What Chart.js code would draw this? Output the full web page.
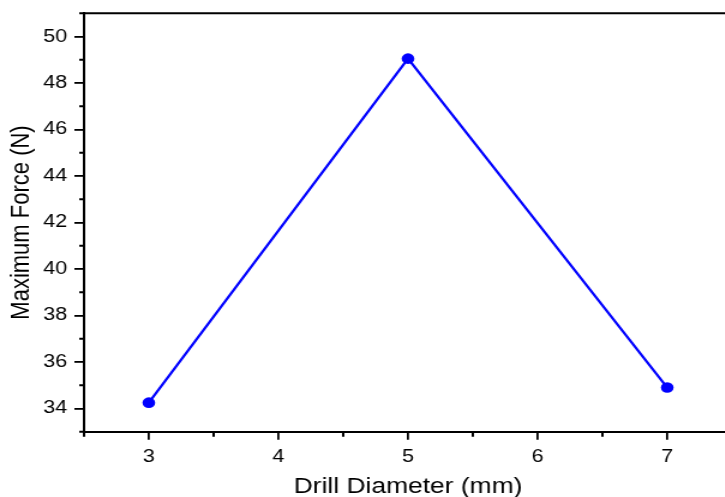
<!DOCTYPE html>
<html>
<head>
<meta charset="utf-8">
<script src="https://cdn.jsdelivr.net/npm/chart.js@4"></script>
<style>
    html, body { margin: 0; padding: 0; background: #fff; overflow: hidden; }
    #wrap { width: 620px; height: 497px; transform: scaleX(1.2); transform-origin: 0 0; }
</style>
</head>
<body>
<div id="wrap"><canvas id="forceChart" width="620" height="497"></canvas></div>
<script>
// drill diameter (mm) vs maximum force (N)
const diameters = [3, 5, 7];
const maxForce = [34.25, 49.05, 34.9];

const xTicks = [3, 4, 5, 6, 7];
const xMinor = [2.5, 3.5, 4.5, 5.5, 6.5, 7.5];
const yTicks = [34, 36, 38, 40, 42, 44, 46, 48, 50];
const yMinor = [33, 35, 37, 39, 41, 43, 45, 47, 49, 51];

const FONT = "'Liberation Sans', Arial, sans-serif";

/* top frame line + short minor ticks */
const axisExtras = {
    id: "axisExtras",
    afterDraw(chart) {
        const {ctx, chartArea: a, scales: {x, y}} = chart;
        ctx.save();
        ctx.strokeStyle = "#000";
        ctx.lineWidth = 2;
        ctx.beginPath();
        ctx.moveTo(a.left - 4, a.top);
        ctx.lineTo(a.right, a.top);
        ctx.lineTo(a.right, a.bottom);
        yMinor.forEach(v => {
            const py = y.getPixelForValue(v);
            ctx.moveTo(a.left - 4, py);
            ctx.lineTo(a.left, py);
        });
        xMinor.forEach(v => {
            const px = x.getPixelForValue(v);
            ctx.moveTo(px, a.bottom);
            ctx.lineTo(px, a.bottom + 5);
        });
        ctx.stroke();
        ctx.restore();
    }
};

new Chart(document.getElementById("forceChart"), {
    type: "line",
    data: {
        datasets: [{
            data: diameters.map((d, i) => ({x: d, y: maxForce[i]})),
            borderColor: "#0000ff",
            backgroundColor: "#0000ff",
            borderWidth: 2.2,
            pointRadius: 5.3,
            pointBorderWidth: 0,
            tension: 0
        }]
    },
    options: {
        responsive: false,
        animation: false,
        layout: { padding: { top: 13.3, right: 10, left: 0, bottom: 0 } },
        plugins: { legend: { display: false }, tooltip: { enabled: false } },
        scales: {
            x: {
                type: "linear",
                min: 2.5,
                max: 7.5,
                afterBuildTicks: axis => { axis.ticks = xTicks.map(v => ({value: v})); },
                afterFit: scale => {
                    scale.height = 65.3;
                    scale.paddingLeft = 0;
                    scale.paddingRight = 0;
                },
                border: { display: true, color: "#000", width: 2 },
                grid: { drawOnChartArea: false, drawTicks: true, tickLength: 8, color: "#000", lineWidth: 1.8 },
                ticks: { color: "#000", padding: 7, maxRotation: 0, font: { family: FONT, size: 18 } },
                title: {
                    display: true,
                    text: "Drill Diameter (mm)",
                    color: "#000",
                    font: { family: FONT, size: 22, lineHeight: 1 },
                    padding: { top: 0, bottom: -1 }
                }
            },
            y: {
                min: 33,
                max: 51,
                afterBuildTicks: axis => { axis.ticks = yTicks.map(v => ({value: v})); },
                afterFit: scale => {
                    scale.width = 70;
                    scale.paddingTop = 0;
                    scale.paddingBottom = 0;
                },
                border: { display: true, color: "#000", width: 2 },
                grid: { drawOnChartArea: false, drawTicks: true, tickLength: 8, color: "#000", lineWidth: 1.8 },
                ticks: { color: "#000", padding: 6, font: { family: FONT, size: 18 } },
                title: {
                    display: true,
                    text: "Maximum Force (N)",
                    color: "#000",
                    font: { family: FONT, size: 22, lineHeight: 1 },
                    padding: { top: 7, bottom: 0 }
                }
            }
        }
    },
    plugins: [axisExtras]
});
</script>
</body>
</html>
